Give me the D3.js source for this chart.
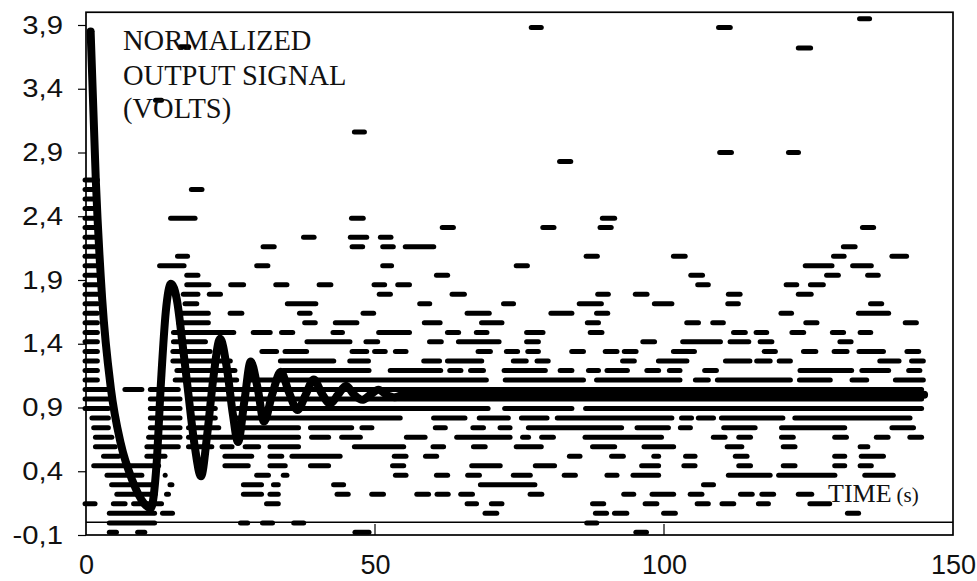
<!DOCTYPE html>
<html>
<head>
<meta charset="utf-8">
<script src="https://cdn.jsdelivr.net/npm/d3@7"></script>
<style>
  html, body { margin: 0; padding: 0; background: #fff; }
  svg { display: block; }
</style>
</head>
<body>
<div id="chart"></div>
<script>
// axis ticks
const yTicks = [-0.1, 0.4, 0.9, 1.4, 1.9, 2.4, 2.9, 3.4, 3.9];
const xTicks = [0, 50, 100, 150];

// damped response (thick curve)
const curveTime  = [0.8, 1.7, 2.8, 4.3, 6, 8, 10, 11.2, 12.2, 13, 13.8, 14.7, 15.7, 16.7, 17.6, 18.8, 19.9, 21, 22, 23.2, 24.4, 25.4, 26.3, 27.4, 28.5, 29.7, 30.8, 32.2, 33.7, 35.1, 36.6, 38, 39.4, 40.8, 42.2, 43.6, 45, 46.4, 47.8, 49.2, 50.6, 52, 53.4, 55, 145];
const curveVolts = [3.85, 2.68, 1.75, 1.05, 0.62, 0.33, 0.15, 0.11, 0.45, 1.12, 1.65, 1.87, 1.75, 1.4, 1.05, 0.6, 0.36, 0.7, 1.12, 1.44, 1.2, 0.85, 0.63, 0.95, 1.26, 1.05, 0.79, 1.0, 1.18, 1.02, 0.88, 1.0, 1.12, 1.01, 0.93, 1.0, 1.07, 1.0, 0.96, 1.0, 1.04, 1.0, 0.98, 1.0, 1.0];

// sampled output (dash markers): one level per row, runs of dashes as [tStart, tEnd]
const dashLevels = [2.684, 2.610, 2.535, 2.460, 2.385, 2.311, 2.236, 2.161, 2.087, 2.012, 1.937, 1.863, 1.788, 1.713, 1.639, 1.564, 1.489, 1.415, 1.340, 1.265, 1.190, 1.116,
                    1.041, 0.966, 0.892, 0.817, 0.742, 0.667, 0.593, 0.518, 0.443, 0.369, 0.294, 0.219, 0.145, 0.070, -0.005, -0.079];
const dashRuns = [
  [[-0.6, 2.4]],
  [[-0.6, 2.4], [17.8, 20.5]],
  [[-0.6, 2.4]],
  [[-0.6, 2.4]],
  [[-0.6, 2.4], [14.2, 19.3], [45.5, 48.4], [88.9, 91.9]],
  [[-0.6, 2.4], [61.2, 64.0], [78.6, 81.4], [88.5, 91.3], [133.9, 136.7]],
  [[-0.6, 2.4], [37.2, 39.9], [45.3, 49.0], [50.5, 53.2]],
  [[-0.6, 2.4], [30.2, 33.0], [45.6, 48.3], [50.9, 53.6], [54.8, 60.6], [130.6, 133.5]],
  [[-0.6, 2.4], [15.4, 18.0], [86.1, 88.9], [101.2, 104.1], [128.9, 131.6], [139.0, 142.4]],
  [[-0.6, 2.4], [12.3, 17.4], [29.1, 31.9], [50.9, 53.3], [74.0, 76.8], [124.0, 129.5], [132.2, 136.3]],
  [[-0.6, 2.4], [17.0, 19.8], [60.2, 63.0], [104.2, 107.1], [127.7, 130.6], [134.8, 137.5]],
  [[-0.6, 2.4], [17.0, 21.7], [24.6, 27.7], [32.4, 35.2], [39.9, 42.8], [49.4, 52.1], [53.5, 56.4], [105.4, 108.1], [120.7, 123.4], [124.9, 128.0]],
  [[-0.6, 2.4], [16.4, 19.8], [20.9, 23.7], [50.3, 53.1], [62.9, 65.9], [88.1, 90.8], [94.6, 97.5], [110.7, 113.6], [122.8, 125.9]],
  [[-0.6, 2.4], [16.7, 19.6], [34.4, 40.2], [57.3, 59.9], [71.8, 74.4], [84.9, 89.6], [97.9, 101.8], [110.6, 113.3], [135.3, 138.1]],
  [[-0.6, 2.4], [15.6, 21.6], [24.5, 27.4], [36.5, 39.2], [47.5, 50.2], [65.5, 70.2], [80.0, 84.5], [87.9, 90.7], [119.8, 122.5], [133.2, 139.3]],
  [[-0.6, 2.4], [15.6, 21.6], [37.4, 40.1], [42.7, 47.3], [58.1, 61.7], [68.0, 72.4], [86.3, 89.1], [103.5, 106.4], [108.0, 110.7], [124.1, 126.9], [141.3, 144.1]],
  [[-0.6, 2.4], [14.7, 26.0], [28.5, 32.3], [33.4, 36.2], [42.3, 44.8], [50.2, 56.4], [62.1, 64.9], [67.1, 69.8], [75.8, 79.5], [86.8, 89.7], [111.6, 114.5], [115.5, 118.2], [121.7, 124.6], [128.7, 131.5], [133.5, 136.2]],
  [[-0.6, 2.4], [14.7, 21.1], [37.8, 46.1], [48.0, 50.9], [59.0, 61.9], [64.0, 71.9], [75.8, 78.7], [95.9, 98.8], [102.8, 110.2], [111.0, 115.1], [116.2, 119.1], [130.0, 132.8]],
  [[-0.6, 2.4], [14.6, 21.9], [30.0, 33.4], [34.0, 38.6], [45.6, 49.0], [49.5, 52.2], [53.1, 55.8], [67.4, 70.4], [72.3, 75.1], [76.0, 78.7], [83.6, 86.5], [89.4, 92.3], [92.7, 95.6], [101.2, 105.7], [116.9, 119.7], [123.7, 126.7], [129.0, 132.1], [133.3, 138.4], [141.6, 144.5]],
  [[-0.6, 2.4], [14.6, 25.4], [33.2, 43.3], [45.2, 49.3], [58.0, 61.6], [62.1, 68.9], [73.5, 76.6], [77.6, 80.4], [92.4, 95.3], [98.6, 104.4], [110.2, 115.3], [115.6, 118.8], [119.5, 122.3], [136.9, 141.1], [142.4, 145.3]],
  [[-0.6, 2.4], [15.3, 26.2], [33.7, 49.4], [52.2, 61.8], [62.5, 65.3], [66.1, 69.2], [71.9, 79.9], [81.6, 84.5], [86.5, 89.1], [89.7, 94.1], [96.6, 99.5], [100.5, 103.2], [106.6, 109.5], [123.1, 132.9], [133.8, 139.3], [141.9, 144.7]],
  [[-0.6, 2.4], [15.0, 26.5], [28.0, 69.7], [72.1, 86.5], [87.9, 103.2], [105.0, 108.1], [108.8, 122.3], [123.0, 129.2], [132.1, 135.5], [139.6, 145.3]],
  [[-0.6, 4.3], [6.3, 10.1], [10.7, 16.4], [17.6, 145.0]],
  [[-0.6, 4.3], [10.7, 16.7], [17.6, 145.0]],
  [[-0.6, 4.3], [10.7, 16.7], [17.6, 22.8], [25.7, 30.3], [30.8, 70.0], [72.0, 84.5], [86.0, 145.0]],
  [[0.6, 4.3], [10.7, 16.7], [17.6, 22.8], [25.7, 54.8], [59.7, 66.0], [67.6, 73.5], [74.9, 80.2], [81.1, 101.8], [102.6, 105.2], [105.5, 109.0], [109.5, 121.0], [122.2, 143.0]],
  [[0.9, 4.3], [10.7, 16.7], [17.3, 23.4], [26.8, 37.2], [38.4, 46.4], [47.3, 49.9], [60.0, 62.6], [66.5, 69.2], [71.2, 73.8], [76.1, 93.1], [94.9, 101.2], [102.4, 105.0], [109.9, 116.2], [119.9, 131.7], [139.0, 143.6]],
  [[1.2, 4.9], [10.4, 16.7], [17.3, 25.7], [26.8, 37.2], [38.6, 42.4], [43.8, 47.9], [55.0, 59.1], [63.7, 73.8], [75.1, 77.0], [78.4, 81.3], [85.9, 100.0], [108.1, 111.0], [112.5, 115.4], [119.9, 122.8], [129.1, 132.0], [136.3, 139.2], [142.1, 145.0]],
  [[1.2, 5.5], [10.1, 16.4], [17.3, 22.2], [23.1, 25.7], [27.1, 30.3], [31.4, 37.2], [46.0, 55.4], [59.6, 62.3], [66.6, 69.5], [74.0, 79.2], [87.2, 91.9], [96.1, 102.1], [110.5, 113.9], [120.2, 123.1], [133.5, 135.7]],
  [[2.6, 6.1], [10.1, 14.1], [23.6, 29.1], [31.4, 34.3], [35.2, 44.4], [52.9, 55.8], [58.3, 61.1], [83.2, 85.9], [90.5, 93.4], [97.8, 99.5], [103.3, 105.8], [111.9, 114.8], [129.1, 131.7], [133.7, 138.4]],
  [[0.9, 13.0], [23.6, 28.5], [31.4, 34.9], [38.4, 42.4], [52.6, 55.4], [66.3, 72.1], [77.3, 81.5], [95.7, 99.5], [103.0, 105.8], [112.5, 115.4], [120.2, 123.1], [129.1, 131.7], [133.5, 136.3]],
  [[3.2, 10.1], [13.3, 14.1], [29.1, 32.0], [33.7, 35.2], [53.1, 55.8], [60.2, 63.0], [65.6, 68.5], [73.5, 77.3], [82.3, 85.1], [89.7, 92.3], [94.2, 99.5], [110.7, 118.8], [119.4, 130.0], [134.3, 140.1]],
  [[4.0, 12.4], [14.1, 15.3], [26.8, 30.8], [32.0, 33.7], [42.4, 45.0], [67.8, 78.1], [106.4, 109.0]],
  [[4.9, 12.4], [13.5, 14.7], [26.8, 30.8], [31.4, 33.7], [43.0, 45.8], [49.0, 51.9], [56.8, 59.7], [60.3, 63.1], [64.4, 67.3], [76.4, 79.3], [92.6, 95.2], [97.5, 102.1], [104.1, 107.0], [112.8, 115.7], [116.5, 119.4], [122.8, 126.0]],
  [[-0.6, 2.0], [4.3, 7.2], [7.8, 13.5], [30.8, 33.7], [65.5, 68.0], [69.7, 72.4], [87.2, 90.0], [96.3, 99.2], [105.3, 108.1], [109.6, 112.5], [115.9, 118.5], [124.8, 129.1]],
  [[3.6, 12.3], [12.8, 15.4], [68.6, 71.5], [87.7, 90.5], [91.0, 94.0], [99.5, 102.4], [131.3, 134.1]],
  [[3.6, 12.3], [26.3, 28.4], [30.1, 32.7], [35.5, 38.1], [86.2, 88.8]],
  [[3.6, 5.7], [8.5, 10.6], [46.1, 49.4], [94.7, 97.4]]
];
// isolated high readings: [volts, tStart, tEnd]
const outlierDashes = [
  [3.73, 15.9, 18.2], [3.31, 11.6, 13.5], [3.88, 76.6, 79.2], [3.06, 46.0, 48.6], [2.83, 81.5, 84.3],
  [3.88, 109.0, 111.9], [3.95, 133.4, 136.0], [3.72, 122.8, 125.8], [2.90, 109.2, 112.1], [2.90, 121.1, 123.7]
];

const width = 977, height = 581;

const svg = d3.select("#chart")
  .append("svg")
  .attr("width", width)
  .attr("height", height);

const x = d3.scaleLinear().domain([0, 150]).range([86, 953]);
const y = d3.scaleLinear().domain([-0.1, 3.9]).range([535, 25]);

// frame
svg.append("rect")
  .attr("x", x(0))
  .attr("y", y(4.0))
  .attr("width", x(150) - x(0))
  .attr("height", y(-0.1) - y(4.0))
  .attr("fill", "none")
  .attr("stroke", "#000")
  .attr("stroke-width", 1.7);

// zero line (time axis crossing)
svg.append("line")
  .attr("x1", x(0)).attr("x2", x(150))
  .attr("y1", y(0)).attr("y2", y(0))
  .attr("stroke", "#000")
  .attr("stroke-width", 1.4);

// y axis
const yAxis = d3.axisLeft(y)
  .tickValues(yTicks)
  .tickSize(8)
  .tickPadding(15)
  .tickFormat(d => d3.format(".1f")(d).replace(".", ",").replace("\u2212", "-"));

const yg = svg.append("g")
  .attr("transform", `translate(${x(0)},0)`)
  .call(yAxis);
yg.select(".domain").remove();
yg.selectAll("line").attr("stroke", "#000").attr("stroke-width", 1.2);
yg.selectAll("text")
  .attr("font-family", "'Liberation Sans', Arial, sans-serif")
  .attr("font-size", 25)
  .attr("fill", "#111")
  .each(function () {
    // the scanned labels are a bit wider than plain Arial
    const w = this.getComputedTextLength();
    d3.select(this).attr("textLength", w * 1.17).attr("lengthAdjust", "spacingAndGlyphs");
  });

// x axis
const xAxis = d3.axisBottom(x)
  .tickValues(xTicks)
  .tickSize(0)
  .tickPadding(20)
  .tickFormat(d3.format("d"));

const xg = svg.append("g")
  .attr("transform", `translate(0,${y(-0.1)})`)
  .call(xAxis);
xg.select(".domain").remove();
xg.selectAll("text")
  .attr("font-family", "'Liberation Sans', Arial, sans-serif")
  .attr("font-size", 27)
  .attr("fill", "#111");

// small ticks on the time axis
svg.append("g")
  .selectAll("line")
  .data(xTicks.slice(1, 3))
  .join("line")
  .attr("x1", d => x(d)).attr("x2", d => x(d))
  .attr("y1", y(-0.1)).attr("y2", y(-0.1) - 11)
  .attr("stroke", "#000")
  .attr("stroke-width", 1.2);

// dash markers
const runs = [];
dashRuns.forEach((row, i) => row.forEach(([t0, t1]) => runs.push({ v: dashLevels[i], t0, t1 })));
outlierDashes.forEach(([v, t0, t1]) => runs.push({ v, t0, t1 }));

function dashEnds(d) {
  let a = x(d.t0) + 2.5, b = x(d.t1) - 2.5;
  if (b < a) { const m = (a + b) / 2; a = m; b = m; }
  return [a, b];
}

svg.append("g")
  .attr("class", "dashes")
  .selectAll("line")
  .data(runs)
  .join("line")
  .attr("x1", d => dashEnds(d)[0])
  .attr("x2", d => dashEnds(d)[1])
  .attr("y1", d => y(d.v))
  .attr("y2", d => y(d.v))
  .attr("stroke", "#000")
  .attr("stroke-width", 5)
  .attr("stroke-linecap", "round");

// response curve
const curvePts = curveTime.map((t, i) => [t, curveVolts[i]]);
svg.append("path")
  .datum(curvePts)
  .attr("fill", "none")
  .attr("stroke", "#000")
  .attr("stroke-width", 8)
  .attr("stroke-linejoin", "round")
  .attr("stroke-linecap", "round")
  .attr("d", d3.line().x(d => x(d[0])).y(d => y(d[1])).curve(d3.curveMonotoneX));

// labels
const serif = "'Liberation Serif', 'Times New Roman', serif";
const title = svg.append("text")
  .attr("font-family", serif)
  .attr("font-size", 28.5)
  .attr("fill", "#111");
[["NORMALIZED", 50], ["OUTPUT SIGNAL", 85], ["(VOLTS)", 118]].forEach(([s, by]) => {
  title.append("tspan").attr("x", 123).attr("y", by).text(s);
});

const tl = svg.append("text")
  .attr("x", 828)
  .attr("y", 502)
  .attr("font-family", serif)
  .attr("font-size", 26)
  .attr("fill", "#111");
tl.append("tspan").text("TIME");
tl.append("tspan").attr("dx", 5).attr("font-size", 21).text("(s)");
</script>
</body>
</html>
